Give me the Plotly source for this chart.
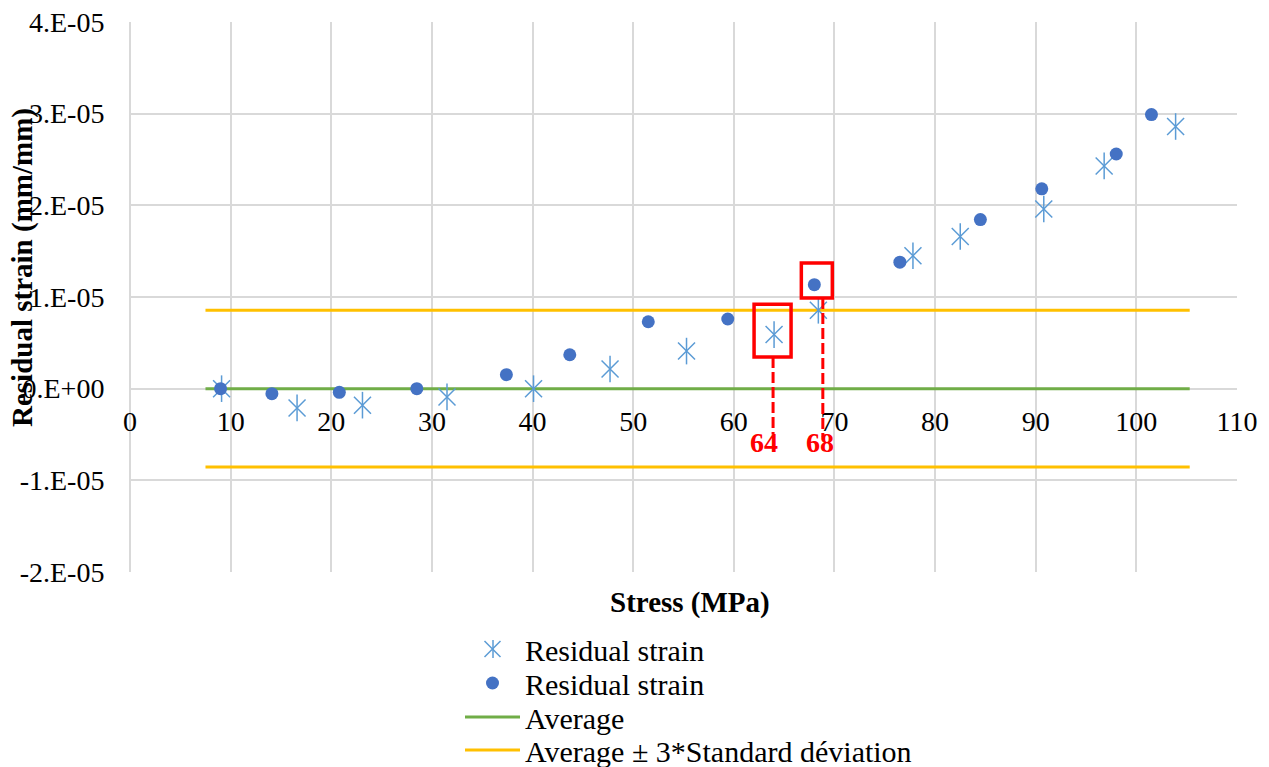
import plotly.graph_objects as go

# Residual strain measurements: two test series
stress_a = [9.1, 16.6, 23.1, 31.5, 40.1, 47.7, 55.3, 64.0, 68.4, 77.8, 82.5, 90.8, 96.8, 103.9]
strain_a = [0.0, -2.1e-6, -1.8e-6, -0.9e-6, 0.0, 2.15e-6, 4.1e-6, 5.9e-6, 8.55e-6,
            14.5e-6, 16.6e-6, 19.6e-6, 24.3e-6, 28.6e-6]

stress_b = [9.0, 14.1, 20.8, 28.5, 37.4, 43.7, 51.5, 59.4, 68.0, 76.5, 84.5, 90.6, 98.0, 101.5]
strain_b = [0.0, -0.55e-6, -0.4e-6, 0.0, 1.53e-6, 3.7e-6, 7.3e-6, 7.6e-6, 11.35e-6,
            13.8e-6, 18.45e-6, 21.8e-6, 25.6e-6, 29.9e-6]

# Reference lines
band_x = [7.5, 105.3]
average = 0.0
three_sigma = 8.55e-6

# Highlighted threshold stresses
threshold_stress = [64, 68]

# Axis ticks
x_ticks = list(range(0, 111, 10))
y_tickvals = [4e-5, 3e-5, 2e-5, 1e-5, 0.0, -1e-5, -2e-5]
y_ticktext = ["4.E-05", "3.E-05", "2.E-05", "1.E-05", "0.E+00", "-1.E-05", "-2.E-05"]
y_range = [-2e-5, 4e-5]

FONT = "Liberation Serif"
STAR_C = "#5B9BD5"
DOT_C = "#4472C4"
GREEN = "#70AD47"
YELLOW = "#FFC000"
RED = "#FF0000"
GRID = "#D9D9D9"

# Page geometry: the plotting region leaves room underneath for the legend rows
W, H = 1269, 767
M_L, M_R, M_T, M_B = 130, 32, 22, 0
PLOT_BOTTOM_PX = 572
paper_h = H - M_T - M_B
paper_w = W - M_L - M_R


def py(px):
    """Page pixel row -> paper y fraction."""
    return (H - M_B - px) / paper_h


def px_x(px):
    """Page pixel column -> paper x fraction."""
    return (px - M_L) / paper_w


y_dom = [py(PLOT_BOTTOM_PX), 1.0]
zero_frac = (0 - y_range[0]) / (y_range[1] - y_range[0])
x_axis_pos = y_dom[0] + zero_frac * (y_dom[1] - y_dom[0])

fig = go.Figure()

fig.add_trace(go.Scatter(
    x=band_x, y=[average] * 2, mode="lines", name="Average", legend="legend3",
    line=dict(color=GREEN, width=3)))
fig.add_trace(go.Scatter(
    x=band_x, y=[average + three_sigma] * 2, mode="lines",
    name="Average ± 3*Standard déviation", legend="legend4", legendgroup="band",
    line=dict(color=YELLOW, width=3)))
fig.add_trace(go.Scatter(
    x=band_x, y=[average - three_sigma] * 2, mode="lines", showlegend=False,
    legend="legend4", legendgroup="band", line=dict(color=YELLOW, width=3)))

# Star markers: diagonal cross plus a vertical bar (two stacked symbols)
fig.add_trace(go.Scatter(
    x=stress_a, y=strain_a, mode="markers", name="Residual strain",
    legendgroup="a", legend="legend",
    marker=dict(symbol="x-thin-open", size=17, color=STAR_C,
                line=dict(color=STAR_C, width=1.5))))
fig.add_trace(go.Scatter(
    x=stress_a, y=strain_a, mode="markers", showlegend=False, legendgroup="a",
    legend="legend",
    marker=dict(symbol="line-ns-open", size=19, color=STAR_C,
                line=dict(color=STAR_C, width=1.5))))

fig.add_trace(go.Scatter(
    x=stress_b, y=strain_b, mode="markers", name="Residual strain", legend="legend2",
    marker=dict(symbol="circle", size=13, color=DOT_C)))

# Red highlight boxes and dashed drop lines (pixel offsets around each stress)
boxes = [
    dict(s=threshold_stress[0], bx=(-20, 17), by=(9.2e-6, 3.45e-6), lx=-1, ly=-5.0e-6, tx=-10),
    dict(s=threshold_stress[1], bx=(-13, 18), by=(13.7e-6, 9.9e-6), lx=8.5, ly=-5.3e-6, tx=6),
]
for b in boxes:
    fig.add_shape(type="rect", xref="x", yref="y", xsizemode="pixel", xanchor=b["s"],
                  x0=b["bx"][0], x1=b["bx"][1], y0=b["by"][1], y1=b["by"][0],
                  line=dict(color=RED, width=3.5), layer="above")
    fig.add_shape(type="line", xref="x", yref="y", xsizemode="pixel", xanchor=b["s"],
                  x0=b["lx"], x1=b["lx"], y0=b["by"][1], y1=b["ly"],
                  line=dict(color=RED, width=3, dash="11px,4px"), layer="above")
    fig.add_annotation(x=b["s"], y=-5.9e-6, xref="x", yref="y", text=f"<b>{b['s']}</b>",
                       showarrow=False, xshift=b["tx"], xanchor="center", yanchor="middle",
                       font=dict(family=FONT, size=28, color=RED))

fig.add_annotation(text="<b>Stress (MPa)</b>", x=px_x(690), y=py(602),
                   xref="paper", yref="paper",
                   xanchor="center", yanchor="middle", showarrow=False,
                   font=dict(family=FONT, size=29, color="black"))
fig.add_annotation(text="<b>Residual strain (mm/mm)</b>", x=px_x(22), y=py(268),
                   xref="paper", yref="paper", textangle=-90, showarrow=False,
                   xanchor="center", yanchor="middle",
                   font=dict(family=FONT, size=29, color="black"))

fig.update_xaxes(
    range=[0, 110], tickvals=x_ticks, showgrid=True, gridcolor=GRID, gridwidth=1.5,
    zeroline=True, zerolinecolor=GRID, zerolinewidth=1.5,
    anchor="free", position=x_axis_pos, showline=False, automargin=False,
    ticks="outside", ticklen=8, tickcolor="rgba(0,0,0,0)",
    tickfont=dict(family=FONT, size=28, color="black"))
fig.update_yaxes(
    range=y_range, domain=y_dom, tickvals=y_tickvals, ticktext=y_ticktext,
    showgrid=True, gridcolor=GRID, gridwidth=1.5, automargin=False,
    zeroline=True, zerolinecolor=GRID, zerolinewidth=1.5, showline=False,
    ticks="outside", ticklen=19, tickcolor="rgba(0,0,0,0)",
    tickfont=dict(family=FONT, size=28, color="black"))

# One single-entry legend per row, stacked below the plot
LEGEND_X_PX = 460
row_centres = [649, 683, 717, 750]
legend_common = dict(xanchor="left", yanchor="middle",
                     font=dict(family=FONT, size=30, color="black"),
                     bgcolor="rgba(0,0,0,0)", itemwidth=55, borderwidth=0)
legends = {}
for i, yc in enumerate(row_centres):
    key = "legend" if i == 0 else f"legend{i + 1}"
    legends[key] = dict(legend_common, x=px_x(LEGEND_X_PX), y=py(yc))

# Vertical bar completing the star swatch in the first legend row
swatch_x = LEGEND_X_PX + 33
fig.add_shape(type="line", xref="paper", yref="paper",
              x0=px_x(swatch_x), x1=px_x(swatch_x),
              y0=py(row_centres[0] - 9), y1=py(row_centres[0] + 9),
              line=dict(color=STAR_C, width=1.5), layer="above")

fig.update_layout(
    width=W, height=H,
    margin=dict(l=M_L, r=M_R, t=M_T, b=M_B, autoexpand=False),
    paper_bgcolor="white", plot_bgcolor="white",
    font=dict(family=FONT, color="black"),
    **legends,
)

fig.write_html("out.html")
